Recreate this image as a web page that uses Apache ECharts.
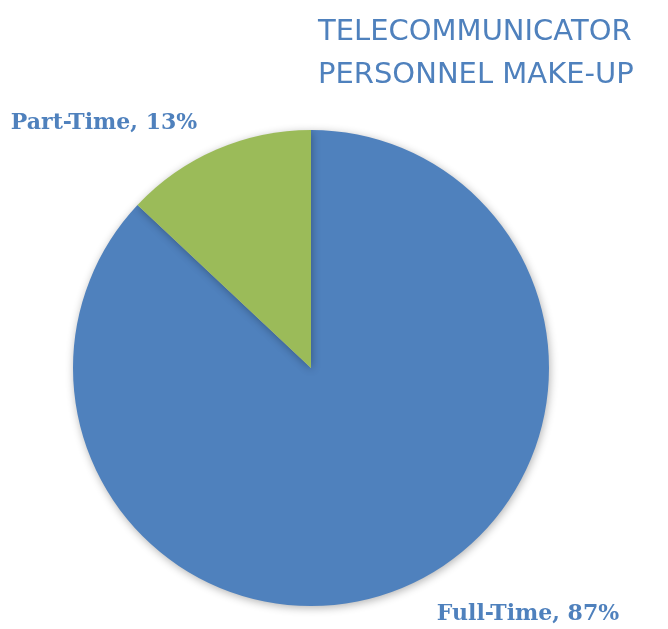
<!DOCTYPE html>
<html><head><meta charset="utf-8">
<script src="https://cdn.jsdelivr.net/npm/echarts@6/dist/echarts.min.js"></script>
<style>html,body{margin:0;padding:0;background:#fff}#c{width:668px;height:629px}</style>
</head><body><div id="c"></div>
<script>
var categories = ['Full-Time', 'Part-Time'];
var values = [87, 13];
var colors = ['#4f81bd', '#9bbb59'];
var titleLines = ['TELECOMMUNICATOR', 'PERSONNEL MAKE-UP'];

var chart = echarts.init(document.getElementById('c'), null, {renderer: 'canvas'});
chart.setOption({
  backgroundColor: '#fff',
  animation: false,
  title: {
    text: titleLines.join('\n'),
    left: 313, top: 6,
    textStyle: {fontFamily: 'DejaVu Sans', fontWeight: 'normal', fontSize: 29, color: '#4f81bd', lineHeight: 43, align: 'left'}
  },
  series: [{
    type: 'pie',
    center: [311, 368],
    radius: 238,
    startAngle: 90,
    clockwise: true,
    data: categories.map(function (c, i) {
      return {name: c, value: values[i], itemStyle: {color: colors[i]}};
    }),
    itemStyle: {shadowBlur: 8, shadowColor: 'rgba(0,0,0,0.3)', shadowOffsetX: 1, shadowOffsetY: 2},
    label: {
      show: true,
      position: 'outside',
      overflow: 'none',
      formatter: function (p) { return p.name + ', ' + Math.round(p.percent) + '%'; },
      fontFamily: 'DejaVu Serif',
      fontWeight: 'bold',
      fontSize: 22,
      color: '#4f81bd'
    },
    labelLine: {show: false},
    labelLayout: function (p) {
      if (p.dataIndex === 0) return {x: 528, y: 614, align: 'center', verticalAlign: 'middle', width: 300};
      return {x: 104, y: 123, align: 'center', verticalAlign: 'middle', width: 300};
    }
  }]
});
</script></body></html>
